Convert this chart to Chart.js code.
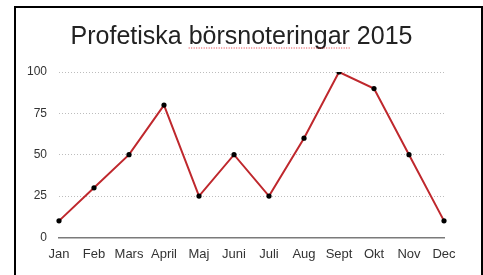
<!DOCTYPE html>
<html>
<head>
<meta charset="utf-8">
<script src="https://cdn.jsdelivr.net/npm/chart.js@4"></script>
<style>
    body { margin: 0; background: #fff; }
    #frame {
        position: absolute; left: 14px; top: 6px;
        width: 465px; height: 300px;
        border: 2px solid #000; border-bottom: none;
    }
    #wrap { position: absolute; left: 0; top: 0; width: 483px; height: 275px; }
</style>
</head>
<body>
<div id="frame"></div>
<div id="wrap"><canvas id="chart"></canvas></div>
<script>
// --- Data ---
const months = ['Jan', 'Feb', 'Mars', 'April', 'Maj', 'Juni', 'Juli', 'Aug', 'Sept', 'Okt', 'Nov', 'Dec'];
const listings = [10, 30, 50, 80, 25, 50, 25, 60, 100, 90, 50, 10];
const yTicks = [0, 25, 50, 75, 100];
const titleText = 'Profetiska börsnoteringar 2015';
const underlinedWord = 'börsnoteringar';

const FONT = "'Liberation Sans', Arial, sans-serif";

// Red dotted "spell check" line under one word of the title
const spellUnderline = {
    id: 'spellUnderline',
    afterDraw(chart) {
        const tb = chart.titleBlock;
        if (!tb) return;
        const ctx = chart.ctx;
        const opts = chart.options.plugins.title;
        ctx.save();
        ctx.font = `${opts.font.weight} ${opts.font.size}px ${FONT}`;
        const full = ctx.measureText(titleText).width;
        const cx = tb.left + tb.width / 2;
        const start = cx - full / 2 + ctx.measureText(titleText.split(underlinedWord)[0]).width;
        const w = ctx.measureText(underlinedWord).width;
        const y = 48;
        ctx.strokeStyle = '#e0303a';
        ctx.lineWidth = 1.2;
        ctx.setLineDash([1, 1.5]);
        ctx.beginPath();
        ctx.moveTo(start, y);
        ctx.lineTo(start + w, y);
        ctx.stroke();
        ctx.restore();
    }
};

new Chart(document.getElementById('chart'), {
    type: 'line',
    data: {
        labels: months,
        datasets: [{
            data: listings,
            borderColor: '#bf282d',
            borderWidth: 2,
            pointRadius: 2.6,
            pointBackgroundColor: '#000',
            pointBorderWidth: 0,
            tension: 0,
            fill: false
        }]
    },
    options: {
        responsive: true, maintainAspectRatio: false, animation: false,
        layout: { padding: { left: 0, right: 0, top: 0, bottom: 4 } },
        plugins: {
            legend: { display: false },
            tooltip: { enabled: false },
            title: {
                display: true,
                text: titleText,
                color: '#222',
                font: { family: FONT, size: 25, weight: '300' },
                padding: { top: 22, bottom: 20 }
            }
        },
        scales: {
            x: {
                offset: false,
                grid: { display: false, drawTicks: false },
                border: { display: true, color: '#7a7a7a', width: 1.5 },
                ticks: { color: '#333', padding: 9, font: { family: FONT, size: 13 }, autoSkip: false, maxRotation: 0 }
            },
            y: {
                min: 0, max: 100,
                afterFit: s => { s.width = 59; },
                afterBuildTicks: s => { s.ticks = yTicks.map(v => ({ value: v })); },
                grid: { color: '#bdbdbd', lineWidth: 1, drawTicks: false },
                border: { display: false, dash: [1, 2] },
                ticks: { color: '#333', padding: 12, font: { family: FONT, size: 12 } }
            },
            // empty right-hand axis, only reserves the margin so the title stays centred on the page
            yRight: {
                position: 'right',
                min: 0, max: 100,
                afterFit: s => { s.width = 39; },
                grid: { display: false, drawTicks: false },
                border: { display: false },
                ticks: { display: false }
            }
        }
    },
    plugins: [spellUnderline]
});
</script>
</body>
</html>
